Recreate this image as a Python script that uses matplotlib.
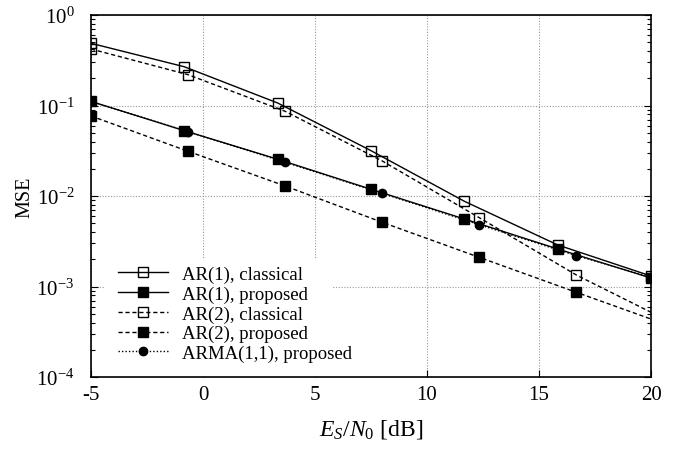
import matplotlib
matplotlib.use("Agg")
import matplotlib.pyplot as plt
from matplotlib.ticker import LogLocator, NullFormatter, FixedLocator
from matplotlib.patches import Rectangle

plt.rcParams['font.family'] = ['Liberation Serif', 'DejaVu Serif']
plt.rcParams['mathtext.fontset'] = 'custom'
plt.rcParams['mathtext.rm'] = 'Liberation Serif'
plt.rcParams['mathtext.it'] = 'Liberation Serif:italic'
plt.rcParams['axes.unicode_minus'] = False

# data
x_ar1 = [-5, -0.833, 3.333, 7.5, 11.667, 15.833, 20]
ar1_classical = [0.487, 0.268, 0.1066, 0.0317, 0.00875, 0.00288, 0.001306]
ar1_proposed = [0.111, 0.0527, 0.0255, 0.01187, 0.00557, 0.00260, 0.00124]

x_ar2 = [-5, -0.667, 3.667, 8.0, 12.333, 16.667, 20]
ar2_classical = [0.421, 0.219, 0.0863, 0.0244, 0.00576, 0.00134, 0.000519]
ar2_proposed = [0.0766, 0.0312, 0.0129, 0.00512, 0.00210, 0.000863, 0.000437]
arma_proposed = [0.111, 0.0514, 0.0236, 0.0107, 0.00482, 0.00219, 0.00127]

labels = ["AR(1), classical", "AR(1), proposed", "AR(2), classical",
          "AR(2), proposed", "ARMA(1,1), proposed"]
x_ticks = [-5, 0, 5, 10, 15, 20]

fig = plt.figure(figsize=(6.93, 4.52), dpi=100)
ax = fig.add_axes([0.1313, 0.1637, 0.8081, 0.8009])

ms = 6.5
lw = 1.0
ax.plot(x_ar1, ar1_classical, color='black', lw=lw, ls='-', marker='s',
        ms=ms, mfc='none', mec='black', mew=1.0, label=labels[0], zorder=3)
ax.plot(x_ar1, ar1_proposed, color='black', lw=lw, ls='-', marker='s',
        ms=ms, mfc='black', mec='black', label=labels[1], zorder=3)
ax.plot(x_ar2, ar2_classical, color='black', lw=lw, ls=(0, (3, 2)), marker='s',
        ms=ms, mfc='none', mec='black', mew=1.0, markevery=list(range(6)),
        label=labels[2], zorder=3)
ax.plot(x_ar2, ar2_proposed, color='black', lw=lw, ls=(0, (3, 2)), marker='s',
        ms=ms, mfc='black', mec='black', markevery=list(range(6)),
        label=labels[3], zorder=3)
ax.plot(x_ar2, arma_proposed, color='black', lw=lw, ls=(0, (1, 1.5)), marker='o',
        ms=6, mfc='black', mec='black', markevery=list(range(6)),
        label=labels[4], zorder=3)

ax.set_yscale('log')
ax.set_xlim(-5, 20)
ax.set_ylim(1e-4, 1e0)
ax.xaxis.set_major_locator(FixedLocator(x_ticks))
ax.set_xticklabels([str(v) for v in x_ticks])
ax.yaxis.set_major_locator(LogLocator(base=10, numticks=10))
ax.yaxis.set_minor_locator(LogLocator(base=10, subs=range(2, 10), numticks=10))
ax.yaxis.set_minor_formatter(NullFormatter())

ax.grid(True, which='major', color='#999999', ls=(0, (1, 1.5)), lw=0.8)
ax.set_axisbelow(True)

# opaque key background (covers grid only)
ax.add_patch(Rectangle((0.025, 0.0), 0.407, 0.326, transform=ax.transAxes,
                       facecolor='white', edgecolor='none', zorder=1))

ax.tick_params(which='both', direction='in', labelsize=15, top=False, right=True)
ax.tick_params(axis='x', which='major', length=5, width=0.8, pad=6)
ax.tick_params(axis='y', which='major', length=5, width=0.8, pad=12)
ax.tick_params(which='minor', length=3, width=0.8)
for s in ax.spines.values():
    s.set_linewidth(1.2)

ax.set_xlabel(r'$E_S/N_0$ [dB]', fontsize=17, labelpad=9)
ax.set_ylabel('MSE', fontsize=14.5, labelpad=1)

leg = ax.legend(loc='upper left', bbox_to_anchor=(0.048, 0.3075),
                fontsize=13.5, frameon=False,
                handlelength=2.67, handletextpad=0.75, labelspacing=0.13,
                borderpad=0.0, borderaxespad=0.0)

fig.savefig('out.png', dpi=100)
